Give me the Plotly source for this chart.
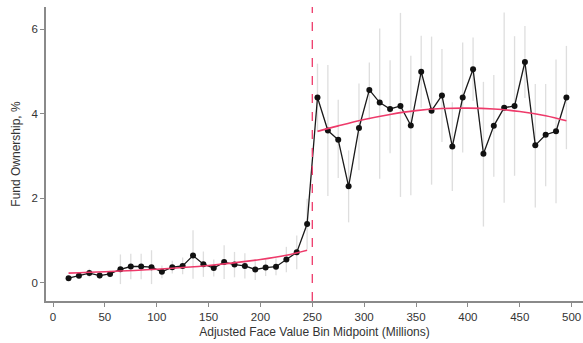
import plotly.graph_objects as go

# Bin midpoints (millions)
bins = [15, 25, 35, 45, 55, 65, 75, 85, 95, 105, 115, 125, 135, 145, 155, 165, 175, 185, 195, 205,
        215, 225, 235, 245, 255, 265, 275, 285, 295, 305, 315, 325, 335, 345, 355, 365, 375, 385,
        395, 405, 415, 425, 435, 445, 455, 465, 475, 485, 495]

ownership = [0.11, 0.165, 0.23, 0.17, 0.21, 0.32, 0.385, 0.385, 0.37, 0.26, 0.37, 0.40, 0.645, 0.44,
             0.35, 0.49, 0.43, 0.40, 0.315, 0.36, 0.38, 0.55, 0.72, 1.39,
             4.38, 3.60, 3.38, 2.28, 3.66, 4.56, 4.26, 4.11, 4.18, 3.72, 4.99, 4.07, 4.43, 3.22,
             4.38, 5.05, 3.05, 3.71, 4.14, 4.18, 5.22, 3.25, 3.50, 3.58, 4.38]

# Confidence interval half-widths (upper / lower)
err_up = [0.04, 0.06, 0.10, 0.08, 0.08, 0.35, 0.30, 0.30, 0.40, 0.15, 0.15, 0.20, 0.60, 0.30,
          0.20, 0.40, 0.30, 0.30, 0.25, 0.20, 0.20, 0.30, 0.40, 0.60,
          0.80, 1.55, 0.95, 0.85, 1.05, 0.65, 1.75, 1.15, 2.20, 1.65, 0.85, 1.75, 1.10, 1.05,
          1.30, 0.75, 1.70, 1.20, 2.25, 1.65, 0.85, 1.45, 1.20, 1.70, 1.22]
err_down = [0.04, 0.06, 0.10, 0.08, 0.08, 0.35, 0.30, 0.30, 0.40, 0.15, 0.15, 0.20, 0.55, 0.30,
            0.20, 0.40, 0.30, 0.30, 0.25, 0.20, 0.20, 0.30, 0.40, 0.60,
            0.80, 1.55, 0.90, 0.85, 1.00, 0.70, 1.80, 1.05, 2.15, 1.65, 0.85, 1.75, 1.10, 1.05,
            1.30, 0.75, 1.72, 1.20, 2.25, 1.65, 0.85, 1.47, 1.22, 1.70, 1.22]

# Polynomial fits
fit_left_x = [15, 50, 100, 150, 200, 225, 245]
fit_left_y = [0.23, 0.26, 0.32, 0.41, 0.55, 0.65, 0.77]
fit_right_x = [255, 275, 300, 325, 350, 375, 400, 425, 450, 475, 495]
fit_right_y = [3.58, 3.71, 3.86, 3.98, 4.07, 4.12, 4.13, 4.11, 4.05, 3.95, 3.83]

cutoff = 250

x_ticks = [0, 50, 100, 150, 200, 250, 300, 350, 400, 450, 500]
y_ticks = [0, 2, 4, 6]

fit_color = "#ee3a6a"

fig = go.Figure()

fig.add_trace(go.Scatter(
    x=bins, y=ownership, mode="lines+markers",
    line=dict(color="#1a1a1a", width=1.3),
    marker=dict(color="#111111", size=6),
    error_y=dict(type="data", symmetric=False, array=err_up, arrayminus=err_down,
                 color="rgba(200,200,200,0.6)", thickness=1.3, width=0),
    showlegend=False,
))

fig.add_trace(go.Scatter(x=fit_left_x, y=fit_left_y, mode="lines",
                         line=dict(color=fit_color, width=1.6, shape="spline"), showlegend=False))
fig.add_trace(go.Scatter(x=fit_right_x, y=fit_right_y, mode="lines",
                         line=dict(color=fit_color, width=1.6, shape="spline"), showlegend=False))

fig.add_shape(type="line", xref="x", yref="paper", x0=cutoff, x1=cutoff, y0=0, y1=1,
              line=dict(color=fit_color, width=1.3, dash="dash"))

axis_font = dict(family="Liberation Sans, Arial, sans-serif", size=11.5, color="#333333")

fig.update_layout(
    width=583, height=343,
    margin=dict(l=46, r=0, t=7, b=42),
    plot_bgcolor="white", paper_bgcolor="white",
    font=axis_font,
    xaxis=dict(range=[-6.75, 511], tickvals=x_ticks, showgrid=False, zeroline=False,
               showline=True, linecolor="#8a8a8a", linewidth=1.5,
               ticks="outside", ticklen=4, tickcolor="#8a8a8a",
               title=dict(text="Adjusted Face Value Bin Midpoint (Millions)",
                          font=dict(size=12, color="#333333"), standoff=6)),
    yaxis=dict(range=[-0.43, 6.52], tickvals=y_ticks, showgrid=False, zeroline=False,
               showline=True, linecolor="#8a8a8a", linewidth=1.5,
               ticks="outside", ticklen=4, tickcolor="#8a8a8a",
               title=dict(text="Fund Ownership, %", font=dict(size=12, color="#333333"), standoff=8)),
)

fig.write_html("out.html")
